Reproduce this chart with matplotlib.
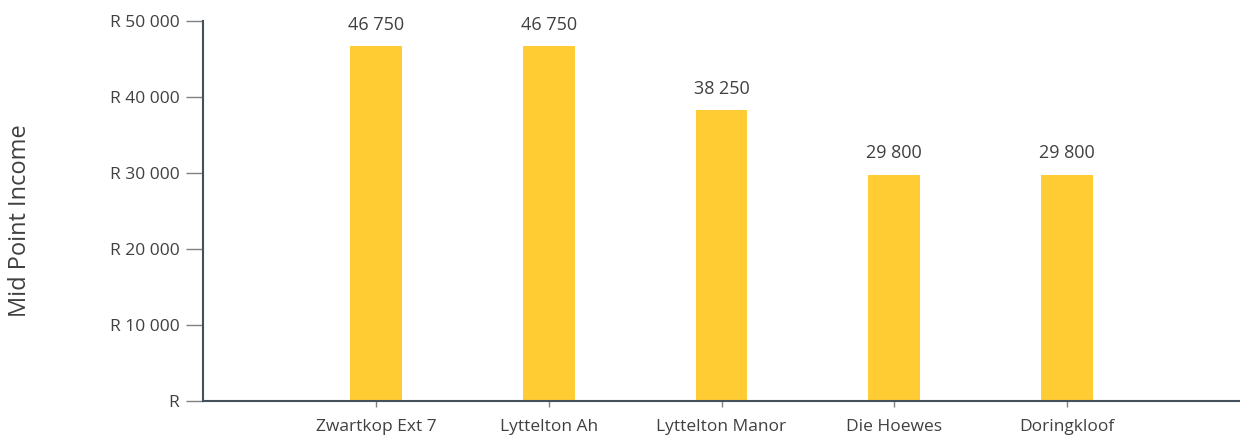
import matplotlib
matplotlib.use("Agg")
import matplotlib.pyplot as plt

# Données
quartiers = ["Zwartkop Ext 7", "Lyttelton Ah", "Lyttelton Manor", "Die Hoewes", "Doringkloof"]
revenu_moyen = [46750, 46750, 38250, 29800, 29800]
graduations = [0, 10000, 20000, 30000, 40000, 50000]
etiquettes_y = ["R", "R 10 000", "R 20 000", "R 30 000", "R 40 000", "R 50 000"]

plt.rcParams['font.family'] = ['Open Sans', 'DejaVu Sans']

fig = plt.figure(figsize=(12.4, 4.42), dpi=100)
ax = fig.add_axes([203 / 1240, 1 - 401 / 442, 1 - 203 / 1240, 380 / 442])

positions = list(range(1, len(quartiers) + 1))
ax.bar(positions, revenu_moyen, width=0.3, color='#FFCD33')

for x, v in zip(positions, revenu_moyen):
    ax.text(x, v + 1600, f"{v:,}".replace(",", " "), ha='center', va='bottom',
            fontsize=13, color='#404040')

ax.set_xlim(0, 6)
ax.set_ylim(0, 50000)
ax.set_xticks(positions)
ax.set_xticklabels(quartiers, fontsize=12.5, color='#404040')
ax.set_yticks(graduations)
ax.set_yticklabels(etiquettes_y, fontsize=12.5, color='#404040')

for s in ['top', 'right']:
    ax.spines[s].set_visible(False)
for s in ['left', 'bottom']:
    ax.spines[s].set_color('#44505C')
    ax.spines[s].set_linewidth(1.5)
ax.tick_params(axis='y', length=12, width=1, color='#808080', pad=5)
ax.tick_params(axis='x', length=4, width=1, color='#808080', pad=9)

fig.text(20 / 1240, 0.5, "Mid Point Income", rotation=90, ha='center', va='center',
         fontsize=17, color='#404040')

fig.savefig("out.png", dpi=100)
